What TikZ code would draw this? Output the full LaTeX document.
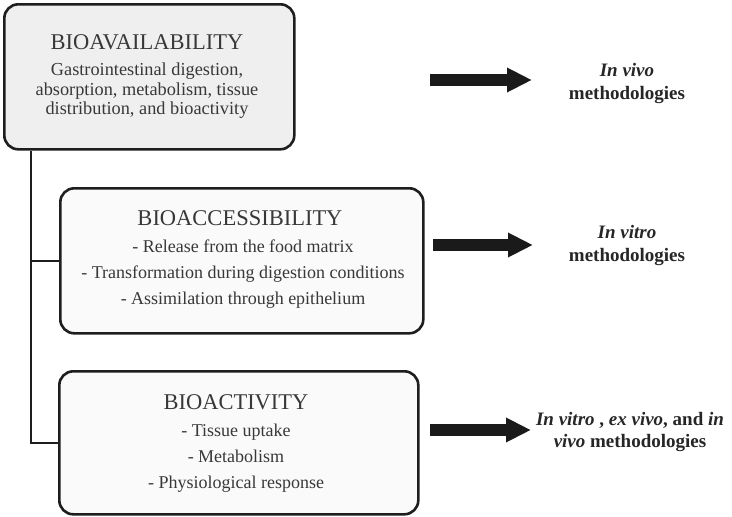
\documentclass[tikz,border=0pt]{standalone}
\usepackage{fontspec}
\setmainfont{Liberation Serif}
\usetikzlibrary{arrows.meta}
\definecolor{boxline}{HTML}{1E1E1E}
\definecolor{fillA}{HTML}{EFEFEF}
\definecolor{fillB}{HTML}{FAFAFA}
\definecolor{txt}{HTML}{383838}
\definecolor{arrowc}{HTML}{1A1A1A}
\begin{document}
\begin{tikzpicture}[x=1pt,y=-1pt,
  panel/.style={draw=boxline, line width=2.6pt, rounded corners=14pt, anchor=north west, inner sep=0pt},
  conn/.style={draw=boxline, line width=2.4pt},
  titletext/.style={font=\fontsize{22.5}{24}\selectfont, text=txt, inner sep=0pt},
  bodytext/.style={font=\fontsize{18.3}{19.5}\selectfont, text=txt, align=center, inner sep=0pt},
  listtext/.style={font=\fontsize{18}{26}\selectfont, text=txt, align=center, inner sep=0pt},
  sidetext/.style={font=\bfseries\fontsize{19}{23}\selectfont, text=black!85, align=center, inner sep=0pt},
  bigarrow/.style={draw=arrowc, line width=11.5pt, -{Triangle[length=25pt,width=23pt]}}]
\useasboundingbox (0,0) rectangle (732,517);

% boxes
\node[panel, fill=fillA, minimum width=290pt, minimum height=145pt] (b1) at (3,3) {};
\node[panel, fill=fillB, minimum width=363pt, minimum height=145pt] (b2) at (59,187) {};
\node[panel, fill=fillB, minimum width=359pt, minimum height=143pt] (b3) at (58,370) {};

% box texts
\node[titletext] (t1) at (147,42) {BIOAVAILABILITY};
\node[bodytext] (d1) at (147,91) {Gastrointestinal digestion,\\absorption, metabolism, tissue\\distribution, and bioactivity};
\node[titletext] (t2) at (240,218) {BIOACCESSIBILITY};
\node[listtext] (d2) at (243,274) {- Release from the food matrix\\- Transformation during digestion conditions\\- Assimilation through epithelium};
\node[titletext] (t3) at (236,402) {BIOACTIVITY};
\node[listtext] (d3) at (236,458) {- Tissue uptake\\- Metabolism\\- Physiological response};

% connectors
\coordinate (top) at ([xshift=28pt]b1.south west);
\draw[conn] (top) |- (b3.west);
\draw[conn] (b2.west) -- (b2.west -| top);

% arrows
\coordinate (a1s) at (430,80);
\coordinate (a1e) at (532,80);
\coordinate (a2s) at (433,245);
\coordinate (a2e) at (533,245);
\coordinate (a3s) at (430,430);
\coordinate (a3e) at (531,430);
\draw[bigarrow] (a1s) -- (a1e);
\draw[bigarrow] (a2s) -- (a2e);
\draw[bigarrow] (a3s) -- (a3e);

% side texts
\node[sidetext] (r1) at (627,84) {\textit{In vivo}\\methodologies};
\node[sidetext] (r2) at (627,246) {\textit{In vitro}\\methodologies};
\node[sidetext] (r3) at (630,432) {\textit{In vitro} , \textit{ex vivo}, and \textit{in}\\\textit{vivo} methodologies};
\end{tikzpicture}
\end{document}
